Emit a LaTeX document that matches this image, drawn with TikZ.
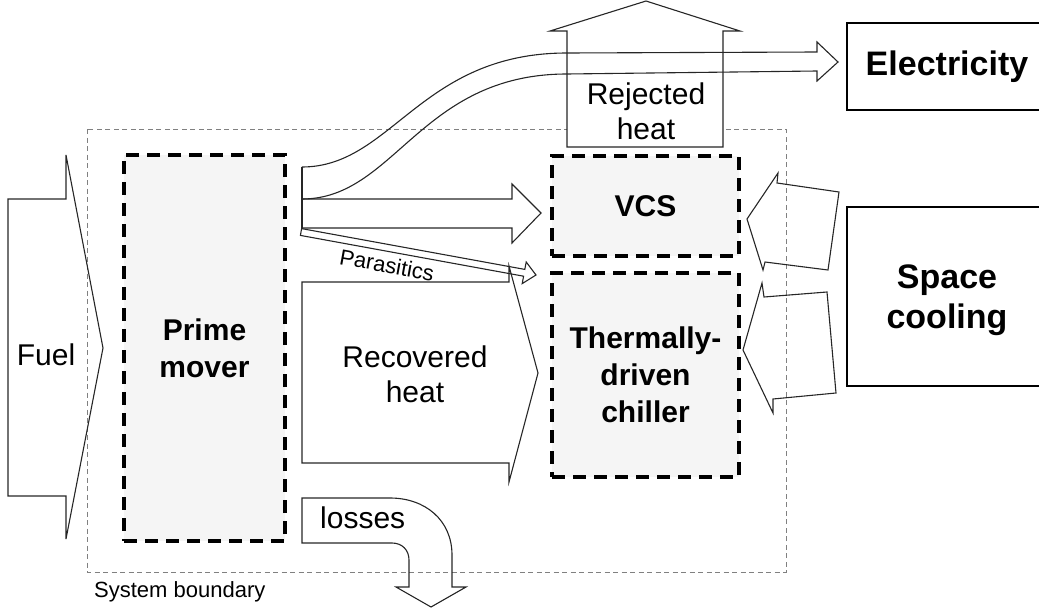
\documentclass[tikz,border=0pt]{standalone}
\usepackage{fontspec}
\setmainfont{Liberation Sans}
\usepackage{tikz}

\begin{document}
\begin{tikzpicture}[x=1pt,y=-1pt,
	flow/.style={draw=black!85, line width=1.1pt, line join=miter},
	unit/.style={draw=black, line width=3.8pt, dash pattern=on 13pt off 8pt,
		fill=black!4, align=center, inner sep=0pt,
		font=\bfseries\fontsize{30}{37}\selectfont},
	product/.style={draw=black, line width=2.2pt, align=center, inner sep=0pt,
		font=\bfseries\fontsize{34}{40}\selectfont},
	flowtext/.style={align=center, inner sep=0pt, font=\fontsize{30}{35}\selectfont}]
	
	\clip (0,0) rectangle (1039,613);
	
	\draw[black!50, line width=0.8pt, dash pattern=on 5pt off 3.5pt] (87,129) rectangle (786,572);
	\node[anchor=base west, inner sep=0pt, font=\fontsize{22}{26}\selectfont] (Boundary) at (94,597) {System boundary};
	
	\draw[flow] (8,199) -- (66,199) -- (66,155) -- (103,348) -- (66,539) -- (66,496) -- (8,496) -- cycle;
	\node[flowtext] (Fuel) at (46,355) {Fuel};
	
	\node[unit, minimum width=161pt, minimum height=386pt] (Prime) at (204.5,348) {Prime\\mover};
	
	\draw[flow, fill=white] (567,147) -- (567,31) -- (550,31) -- (646,1) -- (740,31) -- (723,31) -- (723,147) -- cycle;
	\node[flowtext] (Rejected) at (646,111) {Rejected\\heat};
	
	\draw[flow] (302,167) .. controls (392,167) and (420,53) .. (567,53) -- (817,52) -- (817,42)
		-- (838,62) -- (817,81) -- (817,71) -- (567,74) .. controls (420,74) and (395,199) .. (302,199);
	\draw[flow] (302,167) -- (302,229);
	\draw[flow] (302,199) -- (512,199) -- (512,184) -- (541,213) -- (512,243) -- (512,228) -- (302,228);
	
	\draw[flow] (301.6,228.6) -- (524.8,269.4) -- (526.2,262) -- (536,275) -- (522.2,283.6)
		-- (523.6,276.2) -- (300.4,235.4) -- cycle;
	\node[inner sep=0pt, rotate=-10.4, font=\fontsize{22}{24}\selectfont] (Parasitics) at (387,265) {Parasitics};
	
	\draw[flow] (302,282) -- (509,282) -- (509,266) -- (538,373) -- (509,482) -- (509,463) -- (302,463) -- cycle;
	\node[flowtext] (Recovered) at (415,374) {Recovered\\heat};
	
	\draw[flow] (302,498) -- (390,498) .. controls (425,498) and (452,520) .. (452,555) -- (452,587)
		-- (466,587) -- (431,607) -- (396,587) -- (409,587) -- (409,560)
		.. controls (409,550) and (402,543) .. (392,543) -- (302,543) -- cycle;
	\node[flowtext, anchor=base west] (Losses) at (320,528) {losses};
	
	\node[unit, minimum width=187pt, minimum height=100pt] (VCS) at (645.5,206) {VCS};
	\node[unit, minimum width=187pt, minimum height=204pt] (Chiller) at (645.5,375) {Thermally-\\driven\\chiller};
	
	\draw[flow] (747,219) -- (778,173) -- (777,183) -- (839,192) -- (828,270) -- (765,262) -- (763,270) -- cycle;
	\draw[flow] (743,350) -- (762,283) -- (764,297) -- (827,292) -- (836,393) -- (773,399) -- (773,413) -- cycle;
	
	\node[product, minimum width=200pt, minimum height=87pt] (Elec) at (947,66.5) {Electricity};
	\node[product, minimum width=200pt, minimum height=179pt, text depth=0pt] (Cooling) at (947,296.5) {Space\\cooling};
	
\end{tikzpicture}
\end{document}
